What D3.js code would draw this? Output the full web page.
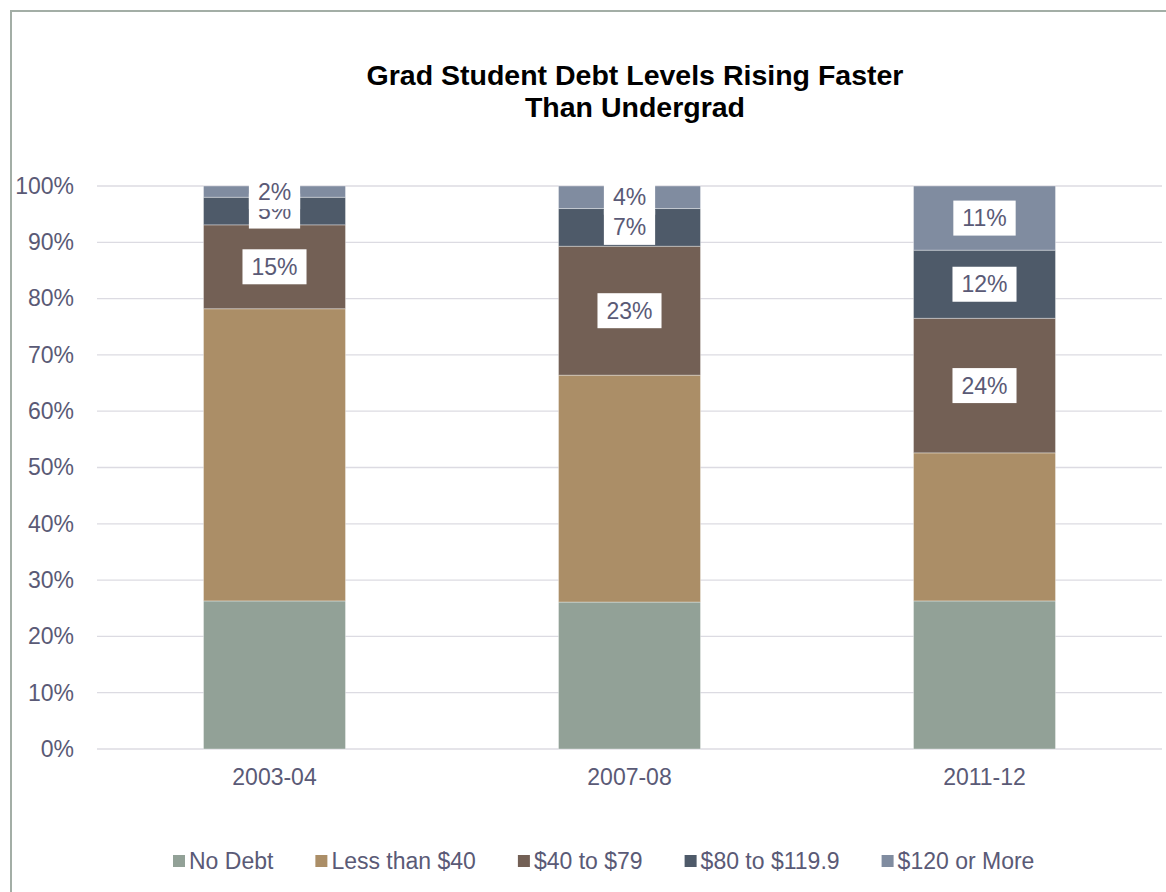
<!DOCTYPE html>
<html>
<head>
<meta charset="utf-8">
<script src="https://cdn.jsdelivr.net/npm/d3@7"></script>
<style>
  html, body { margin: 0; padding: 0; background: #fff; }
  svg { display: block; font-family: "Liberation Sans", Arial, sans-serif; }
</style>
</head>
<body>
<svg id="chart" width="1166" height="892"></svg>
<script>
// ---- data ----
const categories = ["2003-04", "2007-08", "2011-12"];
const seriesNames = ["No Debt", "Less than $40", "$40 to $79", "$80 to $119.9", "$120 or More"];
const noDebt      = [26.3, 26.1, 26.3];
const lessThan40  = [51.9, 40.3, 26.3];
const from40to79  = [14.9, 22.9, 23.9];
const from80to119 = [4.9, 6.7, 12.1];
const over120     = [2.0, 4.0, 11.4];
const yTicks = [0, 10, 20, 30, 40, 50, 60, 70, 80, 90, 100];
const labeledSeries = ["$40 to $79", "$80 to $119.9", "$120 or More"];
const titleLines = ["Grad Student Debt Levels Rising Faster", "Than Undergrad"];

const colors = ["#92a197", "#ab8e67", "#736055", "#4e5a69", "#808ca0"];
const textColor = "#5a5a76";

const seriesValues = [noDebt, lessThan40, from40to79, from80to119, over120];
const table = categories.map((c, i) => {
  const row = { category: c };
  seriesNames.forEach((s, k) => row[s] = seriesValues[k][i]);
  return row;
});
const stacked = d3.stack().keys(seriesNames)(table);

const svg = d3.select("#chart");

// outer border
svg.append("rect").attr("x", 11).attr("y", 11).attr("width", 1400).attr("height", 1200)
  .attr("fill", "none").attr("stroke", "#a3aea6").attr("stroke-width", 2);

const x = d3.scaleBand().domain(categories).range([97, 1162]).paddingInner(0.6).paddingOuter(0.3);
const y = d3.scaleLinear().domain([0, 100]).range([749, 186]);

// title
const title = svg.append("text").attr("text-anchor", "middle").attr("font-weight", "bold")
  .attr("font-size", 28.5).attr("fill", "#000");
titleLines.forEach((t, i) => {
  title.append("tspan").attr("x", 635).attr("y", 85 + i * 32).text(t);
});

// gridlines
svg.append("g").selectAll("line").data(yTicks).join("line")
  .attr("x1", 97).attr("x2", 1162)
  .attr("y1", d => y(d)).attr("y2", d => y(d))
  .attr("stroke", "#dcdbe2").attr("stroke-width", 1.3);

// y axis
const yAxis = svg.append("g").attr("transform", "translate(76,0)")
  .call(d3.axisLeft(y).tickValues(yTicks).tickSize(0).tickPadding(2).tickFormat(d => d + "%"));
yAxis.select(".domain").remove();
yAxis.selectAll("text").attr("font-size", 23).attr("fill", textColor)
  .attr("font-family", "'Liberation Sans', Arial, sans-serif");

// x axis
const xAxis = svg.append("g").attr("transform", "translate(0,749)")
  .call(d3.axisBottom(x).tickSize(0).tickPadding(20));
xAxis.select(".domain").remove();
xAxis.selectAll("text").attr("font-size", 23).attr("fill", textColor)
  .attr("font-family", "'Liberation Sans', Arial, sans-serif");

// bars
const layers = svg.append("g").selectAll("g").data(stacked).join("g")
  .attr("fill", (d, i) => colors[i]);
layers.selectAll("rect").data(d => d).join("rect")
  .attr("x", d => x(d.data.category))
  .attr("width", x.bandwidth())
  .attr("y", d => y(d[1]))
  .attr("height", d => y(d[0]) - y(d[1]))
  .attr("stroke", "rgba(255,255,255,0.35)").attr("stroke-width", 1);

// data labels
const fmt = v => Math.round(v) + "%";
const labelG = svg.append("g");
stacked.filter(s => labeledSeries.includes(s.key)).forEach(s => {
  s.forEach(d => {
    const cx = x(d.data.category) + x.bandwidth() / 2;
    const cy = (y(d[0]) + y(d[1])) / 2;
    const g = labelG.append("g");
    const t = g.append("text").attr("x", cx).attr("y", cy)
      .attr("text-anchor", "middle").attr("dominant-baseline", "central")
      .attr("font-size", 23).attr("fill", textColor).text(fmt(d[1] - d[0]));
    const w = t.node().getComputedTextLength();
    g.insert("rect", "text").attr("x", cx - w / 2 - 9).attr("y", cy - 17.5)
      .attr("width", w + 18).attr("height", 35).attr("fill", "#fff");
  });
});

// legend
const legend = svg.append("g");
let lx = 173;
seriesNames.forEach((s, i) => {
  legend.append("rect").attr("x", lx).attr("y", 855).attr("width", 12).attr("height", 12)
    .attr("fill", colors[i]);
  const t = legend.append("text").attr("x", lx + 16).attr("y", 861)
    .attr("dominant-baseline", "central").attr("font-size", 23).attr("fill", textColor).text(s);
  lx += 16 + t.node().getComputedTextLength() + 42;
});
</script>
</body>
</html>
